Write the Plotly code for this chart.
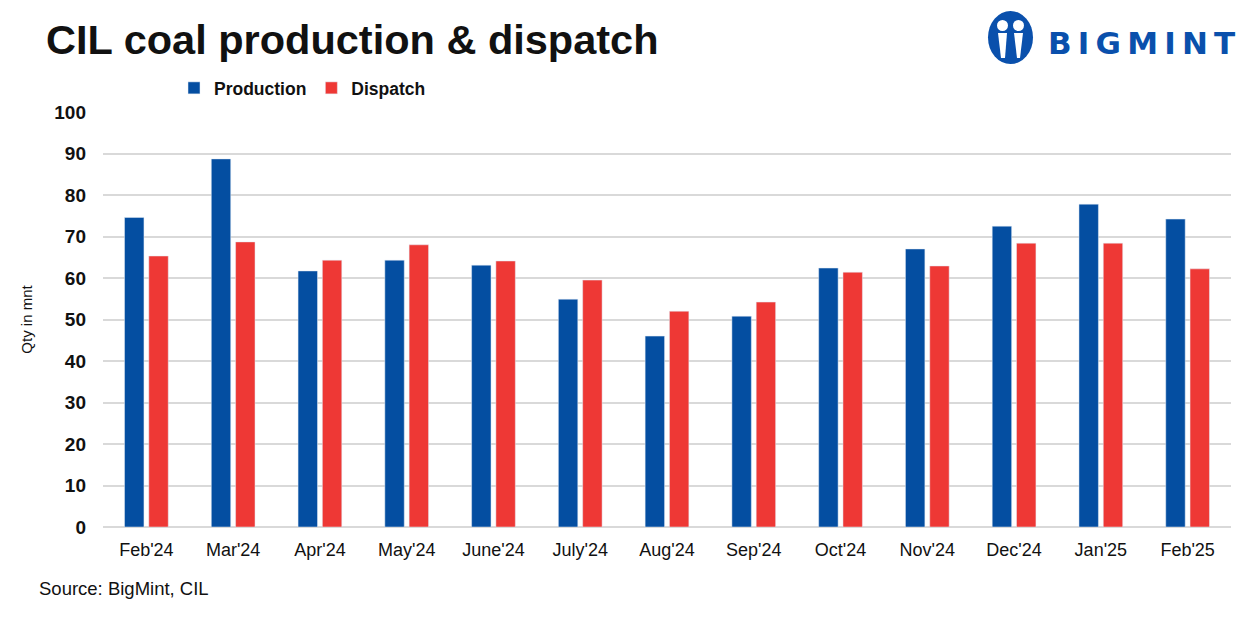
import plotly.graph_objects as go

months = ["Feb'24", "Mar'24", "Apr'24", "May'24", "June'24", "July'24", "Aug'24",
          "Sep'24", "Oct'24", "Nov'24", "Dec'24", "Jan'25", "Feb'25"]
production = [74.6, 88.7, 61.7, 64.3, 63.1, 54.9, 46.0, 50.8, 62.4, 67.0, 72.5, 77.8, 74.2]
dispatch = [65.3, 68.7, 64.3, 68.0, 64.1, 59.5, 52.0, 54.2, 61.4, 62.9, 68.4, 68.4, 62.2]
y_ticks = list(range(0, 101, 10))

BLUE = "#044EA1"
RED = "#EE3835"
LOGO = "#0A50AC"

W, H = 1252, 627
L, R, T, B = 103, 21, 112, 100
PW, PH = W - L - R, H - T - B

def px(x):
    return (x - L) / PW

def py(y):
    return (H - B - y) / PH

fig = go.Figure()
fig.add_trace(go.Bar(x=months, y=production, name="Production", marker_color=BLUE))
fig.add_trace(go.Bar(x=months, y=dispatch, name="Dispatch", marker_color=RED))

shapes = [
    dict(type="circle", xref="paper", yref="paper", x0=px(988), x1=px(1033), y0=py(64), y1=py(11),
         fillcolor=LOGO, line_width=0, layer="above"),
    dict(type="circle", xref="paper", yref="paper", x0=px(997), x1=px(1008), y0=py(31), y1=py(20),
         fillcolor="white", line_width=0, layer="above"),
    dict(type="circle", xref="paper", yref="paper", x0=px(1013), x1=px(1024), y0=py(31), y1=py(20),
         fillcolor="white", line_width=0, layer="above"),
    dict(type="path", xref="paper", yref="paper",
         path=f"M {px(998)},{py(33)} L {px(1007)},{py(33)} L {px(1005)},{py(58)} L {px(1001)},{py(58)} Z",
         fillcolor="white", line_width=0, layer="above"),
    dict(type="path", xref="paper", yref="paper",
         path=f"M {px(1014)},{py(33)} L {px(1023)},{py(33)} L {px(1020)},{py(58)} L {px(1017)},{py(58)} Z",
         fillcolor="white", line_width=0, layer="above"),
]

annotations = [
    dict(text="<b>CIL coal production & dispatch</b>", xref="paper", yref="paper",
         x=px(44), y=py(40), xanchor="left", yanchor="middle", showarrow=False,
         font=dict(family="Liberation Sans, Arial", size=41.5, color="#111111")),
    dict(text="<b>B\u2009I\u2009G\u2009M\u2009I\u2009N\u2009T</b>", xref="paper", yref="paper",
         x=px(1046), y=py(43), xanchor="left", yanchor="middle", showarrow=False,
         font=dict(family="DejaVu Sans", size=31, color=LOGO)),
    dict(text="Source: BigMint, CIL", xref="paper", yref="paper",
         x=px(37), y=py(588), xanchor="left", yanchor="middle", showarrow=False,
         font=dict(family="Liberation Sans, Arial", size=18.5, color="#111111")),
]

fig.update_layout(
    width=W, height=H,
    margin=dict(l=L, r=R, t=T, b=B, autoexpand=False),
    paper_bgcolor="white", plot_bgcolor="white",
    barmode="group", bargap=0.44, bargroupgap=0.2,
    font=dict(family="Liberation Sans, Arial", color="#111111"),
    legend=dict(orientation="h", x=px(174), y=py(88), xanchor="left", yanchor="middle",
                font=dict(size=17.5, family="Liberation Sans, Arial", color="#111111", weight="bold"),
                itemwidth=30, traceorder="normal", bgcolor="rgba(0,0,0,0)"),
    shapes=shapes,
    annotations=annotations,
    showlegend=True,
)
fig.update_xaxes(showgrid=False, showline=False, ticks="", tickfont=dict(size=18, color="#111111"),
                 ticklabelstandoff=10)
fig.update_yaxes(range=[0, 100], tickvals=y_ticks, showgrid=True, gridcolor="#D9D9D9", gridwidth=2,
                 zeroline=True, zerolinecolor="#D9D9D9", zerolinewidth=2,
                 tickfont=dict(size=19, color="#111111", weight="bold"), ticklabelstandoff=16,
                 title=dict(text="Qty in mnt", font=dict(size=15, color="#111111"), standoff=18))

fig.write_html("out.html", config={"displayModeBar": False},
               post_script="document.body.style.margin='0';")
